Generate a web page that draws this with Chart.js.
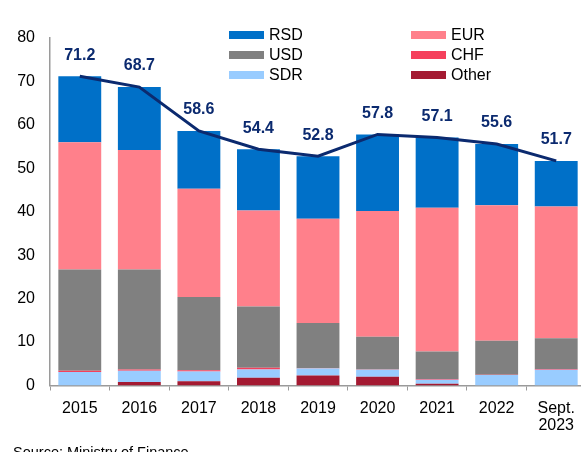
<!DOCTYPE html>
<html>
<head>
<meta charset="utf-8">
<title>Public debt by currency</title>
<script src="https://cdn.jsdelivr.net/npm/chart.js@4"></script>
<style>
    html, body { margin: 0; padding: 0; background: #fff; overflow: hidden; }
    #wrap { position: relative; width: 581px; height: 452px; overflow: hidden; font-family: "Liberation Sans", Arial, sans-serif; }
    #debtChart { position: absolute; left: 0; top: 0; }
    .legend-item { position: absolute; height: 20px; line-height: 20px; font-size: 16px; color: #000; white-space: nowrap; }
    .legend-item span.sw { position: absolute; left: 0; top: 6px; width: 35px; height: 8px; }
    .legend-item span.tx { position: absolute; left: 40px; top: 0; }
    #source { position: absolute; left: 13px; top: 445px; font-size: 14.5px; line-height: 1; color: #000; white-space: nowrap; }
</style>
</head>
<body>
<div id="wrap">
    <canvas id="debtChart" width="586" height="452"></canvas>
    <div id="legend"></div>
    <div id="source">Source: Ministry of Finance</div>
</div>
<script>
// --- Data (EUR bn) ---
const years = ['2015', '2016', '2017', '2018', '2019', '2020', '2021', '2022', ['Sept.', '2023']];
const other = [0, 0.8, 1.0, 1.8, 2.3, 2.0, 0.4, 0, 0];
const sdr   = [3.1, 2.6, 2.2, 1.9, 1.6, 1.6, 0.9, 2.4, 3.6];
const chf   = [0.3, 0.3, 0.3, 0.4, 0.1, 0.1, 0.2, 0.1, 0.2];
const usd   = [23.3, 23.0, 16.9, 14.1, 10.4, 7.5, 6.3, 7.8, 7.1];
const eur   = [29.3, 27.5, 24.9, 22.1, 24.0, 29.0, 33.1, 31.2, 30.3];
const rsd   = [15.2, 14.5, 13.3, 14.1, 14.4, 17.6, 16.2, 14.1, 10.5];
const totals = [71.2, 68.7, 58.6, 54.4, 52.8, 57.8, 57.1, 55.6, 51.7];
const yTicks = [0, 10, 20, 30, 40, 50, 60, 70, 80];

// --- Colours ---
const COLORS = {
    rsd: '#0070C8',
    eur: '#FF808B',
    usd: '#808080',
    chf: '#F5405C',
    sdr: '#99CCFF',
    other: '#A41A32',
    line: '#0B2A6F',
    axis: '#9A9A9A'
};

// bottom of the stack first
const barSeries = [
    { label: 'Other', data: other, color: COLORS.other },
    { label: 'SDR', data: sdr, color: COLORS.sdr },
    { label: 'CHF', data: chf, color: COLORS.chf },
    { label: 'USD', data: usd, color: COLORS.usd },
    { label: 'EUR', data: eur, color: COLORS.eur },
    { label: 'RSD', data: rsd, color: COLORS.rsd }
];

// legend is two columns, row by row
const legendOrder = ['RSD', 'EUR', 'USD', 'CHF', 'SDR', 'Other'];

// ================================================================
// LEGEND (html, two columns)
// ================================================================
function buildLegend() {
    const box = document.getElementById('legend');
    legendOrder.forEach((name, i) => {
        const s = barSeries.find(b => b.label === name);
        const col = i % 2, row = Math.floor(i / 2);
        const item = document.createElement('div');
        item.className = 'legend-item';
        item.style.left = (col === 0 ? 229 : 411) + 'px';
        item.style.top = (25 + row * 20) + 'px';
        item.innerHTML = '<span class="sw" style="background:' + s.color + '"></span><span class="tx">' + s.label + '</span>';
        box.appendChild(item);
    });
}

// ================================================================
// VALUE LABELS ABOVE THE TOTAL LINE
// ================================================================
const totalLabels = {
    id: 'totalLabels',
    afterDatasetsDraw(chart) {
        const idx = chart.data.datasets.findIndex(d => d.type === 'line');
        const meta = chart.getDatasetMeta(idx);
        const ctx = chart.ctx;
        ctx.save();
        ctx.font = 'bold 16px "Liberation Sans", Arial, sans-serif';
        ctx.fillStyle = COLORS.line;
        ctx.textAlign = 'center';
        ctx.textBaseline = 'middle';
        meta.data.forEach((pt, i) => {
            ctx.fillText(totals[i].toFixed(1), pt.x, pt.y - 21);
        });
        ctx.restore();
    }
};

// ================================================================
// CHART
// ================================================================
function initChart() {
    const ctx = document.getElementById('debtChart').getContext('2d');

    const datasets = barSeries.map(s => ({
        type: 'bar',
        label: s.label,
        data: s.data,
        backgroundColor: s.color,
        borderWidth: 0,
        stack: 'debt',
        categoryPercentage: 1.0,
        barPercentage: 0.72,
        order: 2
    }));

    datasets.push({
        type: 'line',
        label: 'Total',
        data: totals,
        borderColor: COLORS.line,
        borderWidth: 3,
        pointRadius: 0,
        tension: 0,
        fill: false,
        stack: 'total',
        order: 1
    });

    new Chart(ctx, {
        data: { labels: years, datasets: datasets },
        options: {
            responsive: false,
            animation: false,
            layout: { padding: { top: 38, left: 0, right: 0, bottom: 0 } },
            plugins: { legend: { display: false }, tooltip: { enabled: false } },
            scales: {
                x: {
                    stacked: true,
                    offset: true,
                    grid: { display: true, drawOnChartArea: false, drawTicks: true, tickLength: 5, color: COLORS.axis, offset: true },
                    border: { display: true, color: COLORS.axis, width: 1.5 },
                    ticks: {
                        color: '#000',
                        padding: 9,
                        maxRotation: 0,
                        autoSkip: false,
                        font: { family: '"Liberation Sans", Arial, sans-serif', size: 16, lineHeight: 1.1 }
                    },
                    afterFit: (scale) => { scale.height = 66.5; }
                },
                y: {
                    stacked: true,
                    min: 0,
                    max: 80,
                    afterBuildTicks: (scale) => { scale.ticks = yTicks.map(v => ({ value: v })); },
                    grid: { display: false, drawTicks: false },
                    border: { display: true, color: COLORS.axis, width: 1.5 },
                    ticks: {
                        color: '#000',
                        padding: 15,
                        font: { family: '"Liberation Sans", Arial, sans-serif', size: 16 }
                    },
                    afterFit: (scale) => { scale.width = 50; }
                }
            }
        },
        plugins: [totalLabels]
    });
}

buildLegend();
initChart();
</script>
</body>
</html>
